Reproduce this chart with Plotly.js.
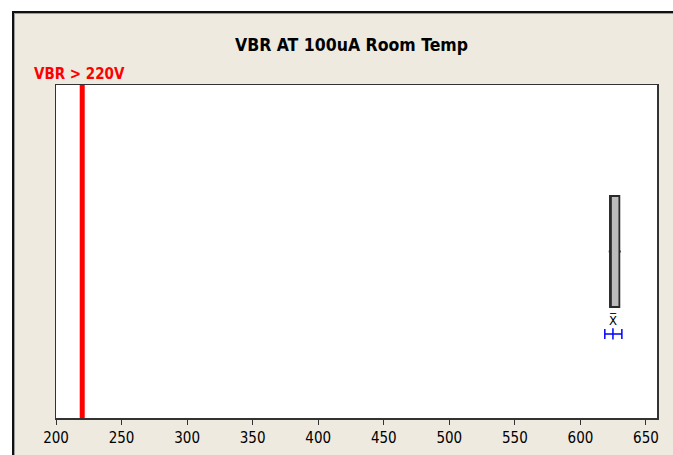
<!DOCTYPE html>
<html>
<head>
<meta charset="utf-8">
<script src="https://cdn.plot.ly/plotly-3.0.1.min.js"></script>
<style>
  html, body { margin:0; padding:0; background:#ffffff; width:673px; height:455px; overflow:hidden; }
  #frame { position:absolute; left:12px; top:11px; border-top:2px solid #111; border-left:2px solid #111; }
  #inner { border-top:1px solid #9a9a9a; border-left:1px solid #9a9a9a; }
  #chart { width:658px; height:441px; }
</style>
</head>
<body>
<div id="frame"><div id="inner"><div id="chart"></div></div></div>
<script>
// ---- data ----
const chartTitle = "VBR AT 100uA Room Temp";
const specLabel = "VBR > 220V";
const specLimit = 220;
const boxQ1 = 622.5;
const boxMedian = 622.5;
const boxQ3 = 629.7;
const boxLower = 621.6;
const boxUpper = 630.8;
const meanValue = 624.8;
const ciLow = 618.6;
const ciHigh = 631.6;
const tickValues = [200, 250, 300, 350, 400, 450, 500, 550, 600, 650];
const tickLabels = ["200", "250", "300", "350", "400", "450", "500", "550", "600", "650"];

const FONT = "Tahoma, 'DejaVu Sans Condensed', 'DejaVu Sans', sans-serif";

const traces = [
  {
    type: "scatter", mode: "lines",
    x: [specLimit, specLimit], y: [-1.5, 1.5],
    line: { color: "#ff0000", width: 5 },
    hoverinfo: "skip", showlegend: false
  },
  {
    type: "box", orientation: "h",
    y: [0], q1: [boxQ1], median: [boxMedian], q3: [boxQ3],
    lowerfence: [boxLower], upperfence: [boxUpper],
    width: 1, whiskerwidth: 0,
    fillcolor: "#bcbcbc",
    line: { color: "#2a2a2a", width: 1.8 },
    hoverinfo: "skip", showlegend: false
  },
  {
    type: "scatter", mode: "markers",
    x: [meanValue], y: [-0.743],
    marker: { symbol: "line-ns-open", size: 8, color: "#0000ff", line: { color: "#0000ff", width: 1.5 } },
    error_x: { type: "data", symmetric: false, array: [ciHigh - meanValue], arrayminus: [meanValue - ciLow],
               color: "#0000ff", thickness: 1.5, width: 5 },
    hoverinfo: "skip", showlegend: false
  },
  {
    type: "scatter", mode: "text",
    x: [meanValue], y: [-0.635],
    text: ["X\u0305"],
    textfont: { family: FONT, size: 13, color: "#000000" },
    hoverinfo: "skip", showlegend: false
  }
];

const layout = {
  width: 658, height: 441,
  margin: { l: 41, r: 16, t: 71, b: 37 },
  paper_bgcolor: "#eeeae0",
  plot_bgcolor: "#ffffff",
  font: { family: FONT, size: 15, color: "#000000" },
  xaxis: {
    range: [200, 658.4],
    tickvals: tickValues, ticktext: tickLabels,
    ticks: "outside", ticklen: 5, tickwidth: 1, tickcolor: "#333333",
    showgrid: false, zeroline: false,
    showline: true, mirror: true, linecolor: "#333333", linewidth: 1.5,
    tickfont: { family: FONT, size: 15, color: "#000000" },
    fixedrange: true
  },
  yaxis: {
    range: [-1.5, 1.5],
    showticklabels: false, ticks: "",
    showgrid: false, zeroline: false,
    showline: true, mirror: true, linecolor: "#333333", linewidth: 1.5,
    fixedrange: true
  },
  annotations: [
    {
      text: "<b>" + chartTitle + "</b>", xref: "paper", yref: "paper",
      x: 0.4925, y: 1.12, xanchor: "center", yanchor: "middle", showarrow: false,
      font: { family: FONT, size: 17.5, color: "#000000" }
    },
    {
      text: "<b>" + specLabel + "</b>", xref: "paper", yref: "paper",
      x: -0.04, y: 1.033, xanchor: "left", yanchor: "middle", showarrow: false,
      font: { family: FONT, size: 15, color: "#ff0000" }
    }
  ]
};

Plotly.newPlot("chart", traces, layout, { displayModeBar: false, staticPlot: true });
</script>
</body>
</html>
